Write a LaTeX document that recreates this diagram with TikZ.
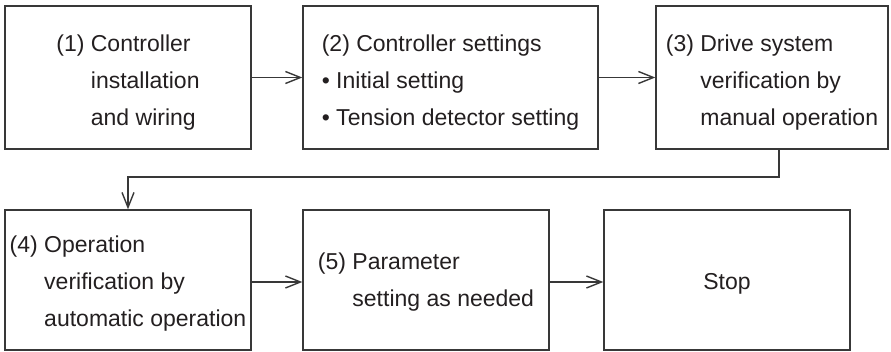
\documentclass[tikz,border=0pt]{standalone}
\usepackage{fontspec}
\setmainfont{Liberation Sans}
\usetikzlibrary{arrows.meta}
\definecolor{txt}{HTML}{231F20}
\definecolor{ln}{HTML}{383838}
\begin{document}
\begin{tikzpicture}[x=1pt,y=-1pt,
  box/.style={draw=ln, line width=1.4pt, inner sep=0pt},
  lbl/.style={text=txt, align=left, inner sep=0pt,
    font=\fontsize{23}{37}\selectfont},
  arr/.style={draw=ln, line width=1.4pt, -{Straight Barb[length=15pt,width=12pt]}}]
\useasboundingbox (0,0) rectangle (891,352);
\newcommand{\ind}[1]{\hphantom{(#1) }}
\node[box, minimum width=246pt, minimum height=143pt] (b1) at (128,77.5) {};
\node[box, minimum width=295pt, minimum height=143pt] (b2) at (450.5,77.5) {};
\node[box, minimum width=232pt, minimum height=143pt] (b3) at (772,77.5) {};
\node[box, minimum width=246pt, minimum height=140pt] (b4) at (128,280) {};
\node[box, minimum width=246pt, minimum height=140pt] (b5) at (426,280) {};
\node[box, minimum width=246pt, minimum height=140pt] (b6) at (727,280) {};
\node[lbl] (t1) at ([yshift=-5pt]b1.center)
  {(1) Controller\\\ind{1}installation\\\ind{1}and wiring};
\node[lbl] (t2) at ([yshift=-5pt]b2.center)
  {(2) Controller settings\\• Initial setting\\• Tension detector setting};
\node[lbl] (t3) at ([yshift=-5pt]b3.center)
  {(3) Drive system\\\ind{3}verification by\\\ind{3}manual operation};
\node[lbl] (t4) at ([yshift=-4pt]b4.center)
  {(4) Operation\\\ind{4}verification by\\\ind{4}automatic operation};
\node[lbl] (t5) at ([yshift=-2pt]b5.center)
  {(5) Parameter\\\ind{5}setting as needed};
\node[lbl] (t6) at ([yshift=-4pt]b6.center) {Stop};
\coordinate (c1) at (779,177);
\coordinate (c2) at (128,177);
\draw[arr] (b1) -- (b2);
\draw[arr] (b2) -- (b3);
\draw[arr] (b3.south -| c1) -- (c1) -- (c2) -- (b4.north);
\draw[arr] ([yshift=-2pt]b4.east) -- ([yshift=-2pt]b5.west);
\draw[arr] ([yshift=-2pt]b5.east) -- ([yshift=-2pt]b6.west);
\end{tikzpicture}
\end{document}
